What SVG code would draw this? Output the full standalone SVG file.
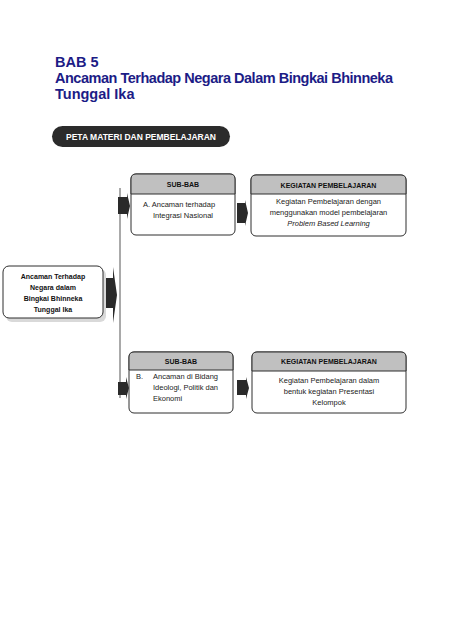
<svg xmlns="http://www.w3.org/2000/svg" width="453" height="640" viewBox="0 0 453 640">
<style>
.title{font-family:"Liberation Sans",Arial,sans-serif;font-weight:bold;font-size:14.5px;fill:#1c1c86}
.box{fill:#ffffff;stroke:#2e2e2e;stroke-width:1}
.hdr{fill:#c0c0c0;stroke:#2e2e2e;stroke-width:1}
.shadow{fill:#d9d9d9}
.ht{font-family:"Liberation Sans",Arial,sans-serif;font-weight:bold;font-size:7px;fill:#111;text-anchor:middle}
.bt{font-family:"Liberation Sans",Arial,sans-serif;font-size:7.5px;fill:#222}
.bc{text-anchor:middle}
.arrow{fill:#2a2a2a}
</style>
<rect width="453" height="640" fill="#ffffff"/>
<g id="title">
<text class="title" x="55" y="67">BAB 5</text>
<text class="title" x="55" y="83" textLength="338" lengthAdjust="spacing">Ancaman Terhadap Negara Dalam Bingkai Bhinneka</text>
<text class="title" x="55" y="99">Tunggal Ika</text>
</g>
<g id="peta">
<rect x="52" y="126" width="178" height="21" rx="10.5" ry="10.5" fill="#2b2b2b"/>
<text x="141" y="140" font-family="'Liberation Sans',Arial,sans-serif" font-weight="bold" font-size="8.5" fill="#ffffff" text-anchor="middle">PETA MATERI DAN PEMBELAJARAN</text>
</g>
<g id="connectors">
<line x1="120" y1="188" x2="120" y2="398" stroke="#555" stroke-width="1"/>
<path class="arrow" d="M104,278 H113 V267 L117,295 L113,323 V308 H104 Z"/>
<path class="arrow" d="M118,197 H127 V193 L130,206 L127,219 V214 H118 Z"/>
<path class="arrow" d="M237,203 H245 V200 L248,213 L245,226 V223 H237 Z"/>
<path class="arrow" d="M118,382 H126 V377 L129,388 L126,399 V395 H118 Z"/>
<path class="arrow" d="M237,380 H246 V377 L249,388 L246,399 V395 H237 Z"/>
</g>
<g id="root">
<rect class="shadow" x="6" y="269" width="100" height="53" rx="6"/>
<rect class="box" x="3" y="266" width="100" height="52" rx="6"/>
<text class="ht" x="53" y="279">Ancaman Terhadap</text>
<text class="ht" x="53" y="290">Negara dalam</text>
<text class="ht" x="53" y="301">Bingkai Bhinneka</text>
<text class="ht" x="53" y="312">Tunggal Ika</text>
</g>
<g id="subbab-a">
<rect class="box" x="131" y="174" width="104" height="61" rx="5"/>
<path class="hdr" d="M131,194 V179 Q131,174 136,174 H230 Q235,174 235,179 V194 Z"/>
<text class="ht" x="183" y="187">SUB-BAB</text>
<text class="bt" x="143" y="207">A. Ancaman terhadap</text>
<text class="bt" x="153" y="218">Integrasi Nasional</text>
</g>
<g id="kegiatan-a">
<rect class="box" x="251" y="175" width="155" height="61" rx="5"/>
<path class="hdr" d="M251,194 V180 Q251,175 256,175 H401 Q406,175 406,180 V194 Z"/>
<text class="ht" x="328.5" y="188">KEGIATAN PEMBELAJARAN</text>
<text class="bt bc" x="328.5" y="204">Kegiatan Pembelajaran dengan</text>
<text class="bt bc" x="328.5" y="215">menggunakan model pembelajaran</text>
<text class="bt bc" x="328.5" y="226" font-style="italic">Problem Based Learning</text>
</g>
<g id="subbab-b">
<rect class="box" x="129" y="352" width="104" height="61" rx="5"/>
<path class="hdr" d="M129,370 V357 Q129,352 134,352 H228 Q233,352 233,357 V370 Z"/>
<text class="ht" x="181" y="364">SUB-BAB</text>
<text class="bt" x="136" y="379">B.</text>
<text class="bt" x="153" y="379">Ancaman di Bidang</text>
<text class="bt" x="153" y="390">Ideologi, Politik dan</text>
<text class="bt" x="153" y="401">Ekonomi</text>
</g>
<g id="kegiatan-b">
<rect class="box" x="252" y="352" width="154" height="61" rx="5"/>
<path class="hdr" d="M252,371 V357 Q252,352 257,352 H401 Q406,352 406,357 V371 Z"/>
<text class="ht" x="329" y="364">KEGIATAN PEMBELAJARAN</text>
<text class="bt bc" x="329" y="383" font-size="8">Kegiatan Pembelajaran dalam</text>
<text class="bt bc" x="329" y="394" font-size="8">bentuk kegiatan Presentasi</text>
<text class="bt bc" x="329" y="405" font-size="8">Kelompok</text>
</g>
</svg>
